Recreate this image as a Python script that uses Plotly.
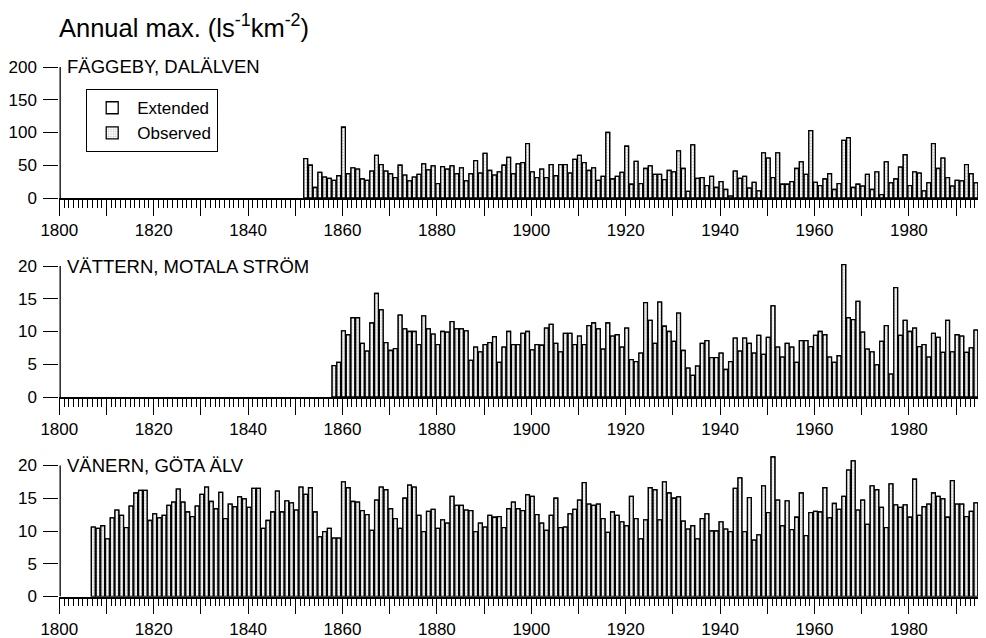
import plotly.graph_objects as go

# ---------------- data ----------------
fagg_start = 1852
fagg_vals = [60, 50, 16, 39, 32, 30, 27, 34, 108, 37, 46, 44, 29, 27, 41, 65, 51, 41, 37, 31,
             50, 35, 26, 32, 36, 52, 43, 49, 22, 48, 44, 49, 37, 46, 26, 37, 57,
             38, 68, 42, 35, 40, 50, 62, 37, 52, 54, 83, 40, 31, 44, 31, 51, 34, 51, 51, 38,
             59, 65, 54, 42, 46, 27, 33, 100, 29, 33, 39, 79, 21, 56,
             22, 45, 49, 36, 36, 28, 42, 40, 72, 45, 10, 81, 30, 31, 19, 33, 16, 25, 13, 3,
             41, 30, 33, 15, 24, 11, 69, 61, 31, 69, 21, 21, 25, 45, 55, 36, 103, 24, 19, 29,
             37, 13, 22, 88, 92, 16, 21, 18, 36, 13, 40, 5, 55, 23, 29, 47, 66, 19, 40, 38,
             11, 23, 83, 45, 61, 31, 18, 27, 26, 51, 37, 23, 96]

vatt_start = 1858
vatt_vals = [4.8, 5.3, 10.1, 9.5, 12.1, 12.1, 8.2, 7.0, 11.3, 15.8,
             13.3, 8.3, 7.1, 7.4, 12.5, 10.4, 10.0, 10.0, 8.0, 12.4,
             10.4, 9.6, 8.0, 10.0, 9.9, 11.5, 10.4, 10.4, 10.1, 5.6,
             7.6, 6.9, 8.0, 8.3, 9.2, 5.3, 7.6, 10.0, 8.0, 8.0,
             9.7, 10.0, 7.2, 8.0, 7.9, 10.5, 11.1, 8.2, 6.9, 9.7,
             9.7, 8.0, 9.3, 8.0, 10.9, 11.3, 10.4, 7.3, 11.3, 9.3,
             9.5, 7.6, 10.5, 5.7, 5.4, 6.7,
             14.4, 11.7, 8.2, 14.5, 10.8, 10.0, 8.5, 12.8, 7.1, 4.4,
             3.3, 4.7, 8.2, 8.6, 6.0, 6.0, 6.7, 4.2, 5.4, 9.0,
             7.0, 9.0, 8.2, 6.7, 9.4, 6.5, 9.1, 13.9, 7.6, 6.1,
             8.2, 7.6, 5.3, 8.6, 8.6, 7.7, 9.4, 10.0, 9.5, 6.1,
             5.3, 6.3, 20.2, 12.1, 11.8, 14.6, 9.9, 7.3, 6.9, 4.9,
             8.5, 10.9, 3.5, 16.7, 9.4, 11.7, 10.0, 10.5, 7.7, 8.0,
             6.1, 9.7, 9.1, 6.8, 11.7, 6.9, 9.5, 9.3, 6.8, 7.5,
             10.2, 11.5]

vane_start = 1807
vane_vals = [10.6, 10.4, 10.8, 8.8, 12.0, 13.2, 12.4, 10.5, 13.8, 15.8,
             16.2, 16.2, 11.6, 12.6, 12.0, 12.4, 13.9, 14.4, 16.4, 14.4,
             12.9, 12.2, 13.8, 15.6, 16.7, 14.5, 13.4, 15.9, 11.9, 14.1,
             13.7, 15.2, 14.9, 13.6, 16.5, 16.5, 10.4, 11.6, 12.9, 16.1,
             12.9, 14.6, 14.3, 13.2, 16.7, 15.6, 16.6, 12.9, 9.1, 9.9,
             10.4, 8.9, 8.9, 17.5, 16.6, 14.5, 14.4, 13.1,
             12.5, 10.1, 14.7, 16.7, 16.3, 13.4, 11.9, 10.4, 15.0, 17.0,
             16.7, 12.4, 9.9, 13.0, 13.3, 10.4, 11.7, 11.2, 15.3, 13.9,
             13.9, 13.2, 13.1, 9.9, 11.2, 10.6, 12.4, 12.1, 12.2, 10.5,
             13.4, 14.4, 13.4, 13.1, 15.5, 15.3, 12.5, 11.2, 10.1, 12.4,
             15.0, 10.5, 10.6, 12.6, 13.3, 14.7, 17.4, 14.1, 13.9, 14.1,
             11.9, 9.8, 12.9, 12.4, 11.4, 10.8, 15.3, 11.9, 8.8, 11.7,
             16.6, 16.3, 11.7, 17.5, 15.8, 15.0,
             15.2, 11.5, 10.3, 10.8, 8.8, 11.9, 12.6, 10.0, 10.0, 11.4,
             10.3, 9.9, 16.5, 18.1, 9.9, 15.1, 8.6, 9.4, 16.9, 12.8,
             21.3, 14.7, 10.8, 14.6, 10.2, 12.1, 15.8, 9.3, 12.8, 13.0,
             12.9, 16.6, 12.0, 14.2, 13.3, 15.3, 19.3, 20.7, 13.2, 14.7,
             11.0, 16.9, 16.3, 13.6, 10.5, 17.2, 14.0, 13.6, 14.0, 12.1,
             17.9, 12.4, 13.7, 14.1, 15.8, 15.3, 14.9, 12.1, 17.7, 14.1,
             14.1, 12.2, 13.0, 14.3, 14.3]

panel_names = ["FÄGGEBY, DALÄLVEN", "VÄTTERN, MOTALA STRÖM", "VÄNERN, GÖTA ÄLV"]
panel_ymax = [200, 20, 20]
panel_yrange_top = [200, 21, 21.8]   # a little headroom so tall bars are not clipped
panel_yticks = [[0, 50, 100, 150, 200], [0, 5, 10, 15, 20], [0, 5, 10, 15, 20]]
xtick_vals = list(range(1800, 2000, 10))
xtick_text = [str(v) if v % 20 == 0 else "" for v in xtick_vals]

series = [(fagg_start, fagg_vals), (vatt_start, vatt_vals), (vane_start, vane_vals)]

# ---------------- layout geometry ----------------
# target positions are given in window pixels; the page body adds an 8px margin
SCREEN_W, SCREEN_H = 986, 638
BODY = 8
W, H = SCREEN_W - BODY, SCREEN_H + 4
x_left_px = 59.3 - BODY
px_per_year = 4.72
x_max = 1800 + (W - x_left_px) / px_per_year
panel_zero_px = [198 - BODY, 397 - BODY, 596.5 - BODY]
panel_height_px = 131.0   # pixels between 0 and the top tick

FONT = "Liberation Sans, Arial, Helvetica, sans-serif"

fig = go.Figure()
layout = dict(
    width=W, height=H,
    margin=dict(l=0, r=0, t=0, b=0, autoexpand=False),
    paper_bgcolor="white", plot_bgcolor="white",
    barmode="overlay",
    font=dict(family=FONT, size=17, color="black"),
    showlegend=True,
    legend=dict(x=(86 - BODY) / W, y=1 - (89 - BODY) / H, xanchor="left", yanchor="top",
                bgcolor="white", bordercolor="black", borderwidth=1.2,
                font=dict(size=17, color="black", family=FONT),
                tracegroupgap=0, itemwidth=40),
)

annotations = []
shapes = []
for i, ((start, vals), name) in enumerate(zip(series, panel_names)):
    years = list(range(start, start + len(vals)))
    sfx = "" if i == 0 else str(i + 1)
    xa, ya = "x" + sfx, "y" + sfx
    fig.add_trace(go.Bar(
        x=years, y=vals, xaxis=xa, yaxis=ya, name="Extended",
        width=0.8, offset=-0.2, legendgroup="ext", showlegend=(i == 0),
        marker=dict(color="white", line=dict(color="black", width=1.3)),
    ))
    fig.add_trace(go.Bar(
        x=years, y=vals, xaxis=xa, yaxis=ya, name="Observed",
        width=0.8, offset=-0.2, legendgroup="obs", showlegend=(i == 0),
        marker=dict(color="white", line=dict(color="black", width=1.3),
                    pattern=dict(shape=".", fgcolor="#8a8a8a", bgcolor="white",
                                 size=3, solidity=0.35)),
    ))
    zero_px = panel_zero_px[i]
    unit_px = panel_height_px / panel_ymax[i]
    top_px = zero_px - panel_yrange_top[i] * unit_px
    layout["xaxis" + sfx] = dict(
        domain=[x_left_px / W, 1], range=[1800, x_max], anchor=ya,
        automargin=False,
        showline=True, linecolor="black", linewidth=1.5,
        showgrid=False, zeroline=False,
        tickmode="array", tickvals=xtick_vals, ticktext=xtick_text,
        ticks="outside", ticklen=16, tickwidth=1.4, tickcolor="black",
        ticklabelstandoff=0,
        tickfont=dict(size=17, family=FONT, color="black"),
        minor=dict(tickmode="linear", tick0=1800, dtick=1, ticks="outside",
                   ticklen=8, tickwidth=1, tickcolor="black", showgrid=False),
    )
    layout["yaxis" + sfx] = dict(
        domain=[1 - zero_px / H, 1 - top_px / H],
        range=[0, panel_yrange_top[i]],
        anchor=xa, automargin=False, showline=False,
        showgrid=False, zeroline=False,
        tickmode="array", tickvals=panel_yticks[i],
        ticks="outside", ticklen=15, tickwidth=1.3, tickcolor="black",
        ticklabelstandoff=3,
        tickfont=dict(size=17, family=FONT, color="black"),
    )
    # vertical axis line running from 0 up to the top tick only
    shapes.append(dict(type="line", xref=xa, yref=ya,
                       x0=1800.16, x1=1800.16, y0=0, y1=panel_ymax[i],
                       line=dict(color="black", width=1.5)))
    annotations.append(dict(
        x=1801.2, y=panel_ymax[i], xref=xa, yref=ya, text=name,
        showarrow=False, xanchor="left", yanchor="middle",
        font=dict(size=18.5, family=FONT, color="black"),
    ))

annotations.append(dict(
    x=(57 - BODY) / W, y=1 - (26 - BODY) / H, xref="paper", yref="paper",
    text="Annual max. (ls<sup>-1</sup>km<sup>-2</sup>)",
    showarrow=False, xanchor="left", yanchor="middle",
    font=dict(size=25.5, family=FONT, color="black"),
))
layout["annotations"] = annotations
layout["shapes"] = shapes

fig.update_layout(**layout)
fig.write_html("out.html")
